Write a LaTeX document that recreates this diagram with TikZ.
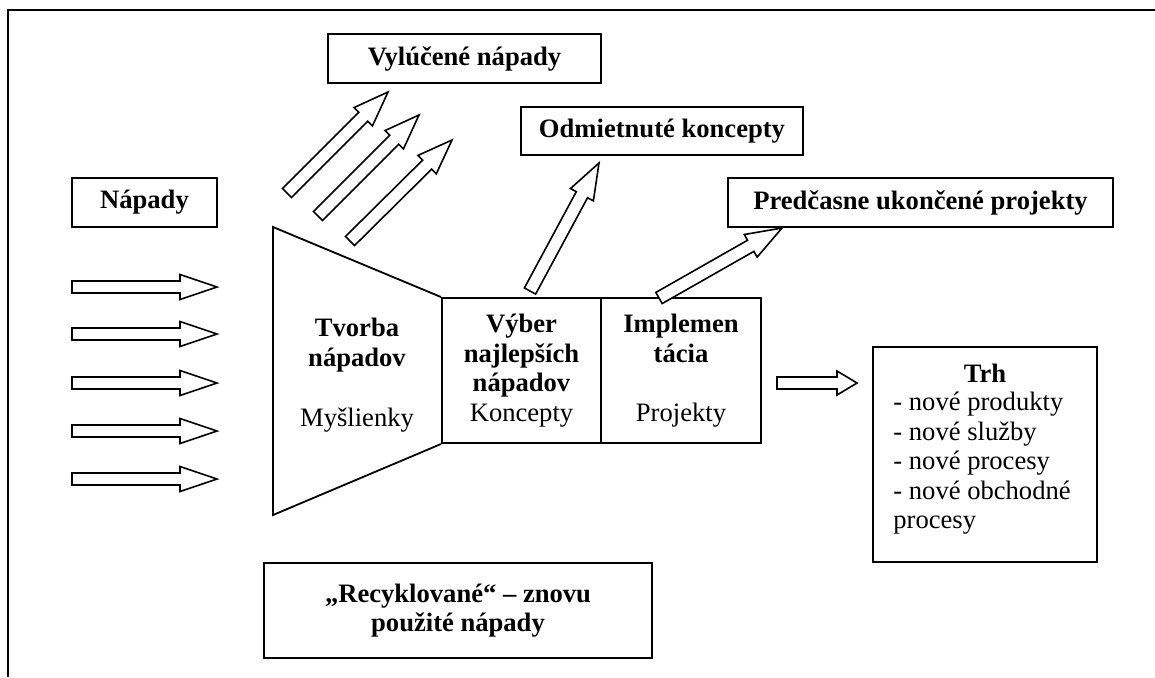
\documentclass[tikz,border=0pt]{standalone}
\usepackage{fontspec}
\setmainfont{Liberation Serif}
\usetikzlibrary{calc}
\tikzset{
  every node/.style={font=\fontsize{13.3}{14.75}\selectfont},
  box/.style={draw, line width=1pt, inner sep=0pt, align=center},
  txt/.style={inner sep=0pt, align=center},
  blk/.style={draw, line width=0.8pt, fill=white, line join=miter},
  frame/.style={line width=1pt},
}
% #1 tail, #2 tip, #3 half shaft, #4 half head, #5 head length, #6 name
\newcommand\blockarr[6]{%
  \coordinate (#6n) at ($(#2)!#5!(#1)$);
  \draw[blk] ($(#1)!#3!90:(#2)$) -- ($(#6n)!#3!90:(#2)$) -- ($(#6n)!#4!90:(#2)$)
    -- (#2) -- ($(#6n)!#4!-90:(#2)$) -- ($(#6n)!#3!-90:(#2)$) -- ($(#1)!#3!-90:(#2)$) -- cycle;
}
\begin{document}
\begin{tikzpicture}[x=0.5pt,y=-0.5pt]
\useasboundingbox (0,0) rectangle (1155,677);
% frame (top and left visible)
\draw[frame] (8,677) -- (8,10) -- (1155,10);

% boxes
\node[box, minimum width=136.5pt, minimum height=24.5pt] (vyl) at (464.5,58.5) {\textbf{Vylúčené nápady}};
\node[box, minimum width=72.5pt, minimum height=24.5pt] (nap) at (144.5,202.5) {\textbf{Nápady}};
\node[box, minimum width=141pt, minimum height=24pt] (odm) at (662,131) {\textbf{Odmietnuté koncepty}};
\node[box, minimum width=192.5pt, minimum height=24.5pt] (pred) at (920.5,202.5) {\textbf{Predčasne ukončené projekty}};
\node[box, minimum width=79.5pt, minimum height=72.5pt] (vyb) at (521.5,370.5) {\textbf{Výber}\\\textbf{najlepších}\\\textbf{nápadov}\\Koncepty};
\node[box, minimum width=80pt, minimum height=72.5pt] (imp) at (681,370.5) {\textbf{Implemen}\\\textbf{tácia}\\\mbox{}\\Projekty};
\node[box, minimum width=112pt, minimum height=107.5pt] (trh) at (985,454.5) {};
\node[box, minimum width=194pt, minimum height=47.5pt] (rec) at (458,610.5) {\textbf{„Recyklované“ – znovu}\\\textbf{použité nápady}};

% trapezoid
\coordinate (tz1) at (273,227);
\coordinate (tz2) at (273,515);
\draw[line width=0.9pt] (vyb.north west) -- (tz1) -- (tz2) -- (vyb.south west);
\node[txt] (tvorba) at (357,345) {\textbf{Tvorba}\\\textbf{nápadov}};
\node[txt] (mysl) at (357,420) {Myšlienky};

% Trh text
\node[txt] (trht) at (985,373) {\textbf{Trh}};
\node[inner sep=0pt, align=left, anchor=north west] (trhl) at (893,392)
  {- nové produkty\\- nové služby\\- nové procesy\\- nové obchodné\\procesy};

% input arrows
\foreach \i/\y in {1/287,2/334,3/383,4/431,5/479}{
  \coordinate (in\i t) at (72,\y);
  \coordinate (in\i h) at (217,\y);
  \blockarr{in\i t}{in\i h}{3pt}{6.25pt}{18.5pt}{in\i}
}

% output arrow to market
\coordinate (outt) at (777,383);
\coordinate (outh) at (857,383);
\blockarr{outt}{outh}{3pt}{6pt}{10pt}{out}

% rejected ideas arrows
\coordinate (r1t) at (287,193); \coordinate (r1h) at (388,92);
\coordinate (r2t) at (318,216); \coordinate (r2h) at (419,115);
\coordinate (r3t) at (350,241); \coordinate (r3h) at (452,140);
\blockarr{r1t}{r1h}{3.2pt}{6.5pt}{17.5pt}{r1}
\blockarr{r2t}{r2h}{3.2pt}{6.5pt}{17.5pt}{r2}
\blockarr{r3t}{r3h}{3.2pt}{6.5pt}{17.5pt}{r3}

% rejected concepts
\coordinate (c1t) at (530,291); \coordinate (c1h) at (599,163);
\blockarr{c1t}{c1h}{3.2pt}{6.5pt}{18pt}{c1}

% terminated projects
\coordinate (p1t) at (659,298); \coordinate (p1h) at (782,228);
\blockarr{p1t}{p1h}{3.2pt}{6.5pt}{18pt}{p1}
\end{tikzpicture}
\end{document}
